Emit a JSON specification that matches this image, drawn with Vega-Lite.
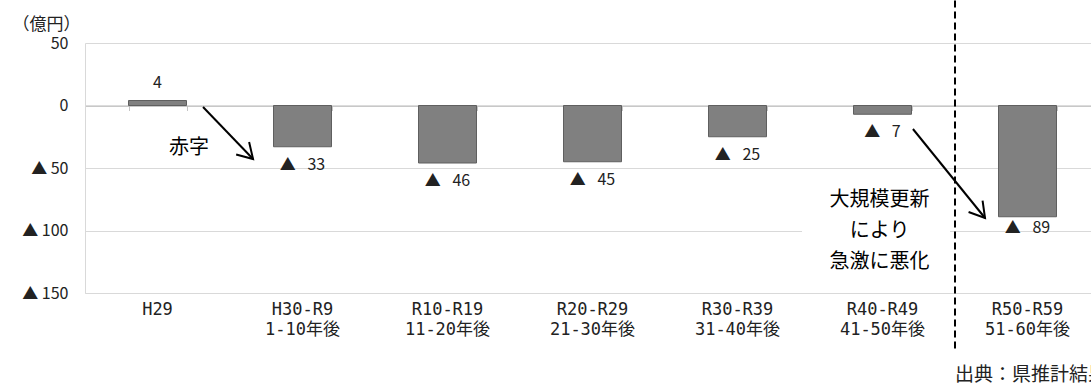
{
  "$schema": "https://vega.github.io/schema/vega-lite/v6.json",
  "width": 1015,
  "height": 250,
  "autosize": "none",
  "padding": {"left": 85, "top": 43, "right": 0, "bottom": 90},
  "background": "white",
  "config": {
    "view": {"stroke": null},
    "font": "Noto Sans CJK JP",
    "text": {"font": "Noto Sans CJK JP", "color": "#222"}
  },
  "datasets": {
    "balance": [
      {"period": "H29", "value": 4, "label": "4"},
      {"period": "H30-R9\n1-10年後", "value": -33, "label": "▲\u2002 33"},
      {"period": "R10-R19\n11-20年後", "value": -46, "label": "▲\u2002 46"},
      {"period": "R20-R29\n21-30年後", "value": -45, "label": "▲\u2002 45"},
      {"period": "R30-R39\n31-40年後", "value": -25, "label": "▲\u2002 25"},
      {"period": "R40-R49\n41-50年後", "value": -7, "label": "▲\u2002 7"},
      {"period": "R50-R59\n51-60年後", "value": -89, "label": "▲\u2002 89"}
    ],
    "arrows": [
      {"arrow": "deficit", "step": 0, "x": 0.814, "y": -1.2},
      {"arrow": "deficit", "step": 1, "x": 1.159, "y": -42.8},
      {"arrow": "renewal", "step": 0, "x": 5.71, "y": -18.8},
      {"arrow": "renewal", "step": 1, "x": 6.207, "y": -90}
    ],
    "notes": [
      {"kind": "deficit", "text": "赤字", "x": 0.717, "y": -34},
      {"kind": "renewal", "text": "大規模更新\nにより\n急激に悪化", "x": 5.48, "y": -75.6},
      {"kind": "source", "text": "出典：県推計結果", "x": 6.0, "y": -215.5}
    ]
  },
  "layer": [
    {
      "data": {"name": "balance"},
      "resolve": {"axis": {"x": "independent"}},
      "layer": [
        {
          "mark": {"type": "bar", "fill": "#808080", "stroke": "#5f5f5f", "strokeWidth": 1},
          "encoding": {
            "x": {
              "field": "period", "type": "nominal", "sort": null,
              "scale": {"paddingInner": 0.6, "paddingOuter": 0.3},
              "axis": {
                "orient": "bottom", "offset": -187.5, "labels": false, "ticks": true,
                "tickBand": "extent", "tickSize": 5, "tickColor": "#c4c4c4",
                "domainColor": "#b8b8b8", "title": null, "grid": false
              }
            },
            "y": {
              "field": "value", "type": "quantitative",
              "scale": {"domain": [-150, 50], "nice": false, "zero": false},
              "axis": {
                "values": [50, 0, -50, -100, -150],
                "labelExpr": "datum.value < 0 ? '▲ ' + (-datum.value) : '' + datum.value",
                "grid": true, "gridColor": "#d9d9d9", "ticks": false,
                "domainColor": "#d9d9d9", "labelPadding": 17, "labelFontSize": 16,
                "labelColor": "#222", "labelFont": "Noto Sans CJK JP",
                "title": "（億円）", "titleAngle": 0, "titleAlign": "left",
                "titleBaseline": "middle", "titleX": -73, "titleY": -19,
                "titleFontSize": 17, "titleFontWeight": "normal", "titleColor": "#222",
                "titleFont": "Noto Sans CJK JP"
              }
            },
            "y2": {"datum": 0}
          }
        },
        {
          "transform": [{"filter": "datum.value >= 0"}],
          "mark": {"type": "text", "fontSize": 16, "baseline": "middle", "dy": -18},
          "encoding": {
            "x": {"field": "period", "type": "nominal", "sort": null, "axis": null},
            "y": {"field": "value", "type": "quantitative"},
            "text": {"field": "label"}
          }
        },
        {
          "transform": [{"filter": "datum.value < 0 && datum.value > -80"}],
          "mark": {"type": "text", "fontSize": 16, "baseline": "middle", "dy": 18},
          "encoding": {
            "x": {
              "field": "period", "type": "nominal", "sort": null,
              "axis": {
                "orient": "bottom", "title": null, "ticks": false, "domainColor": "#d9d9d9",
                "labelExpr": "split(datum.label, '\\n')", "labelAngle": 0,
                "labelFontSize": 17, "labelLineHeight": 20, "labelPadding": 8,
                "labelColor": "#222", "labelFont": "DejaVu Sans Mono, Noto Sans CJK JP"
              }
            },
            "y": {"field": "value", "type": "quantitative"},
            "text": {"field": "label"}
          }
        },
        {
          "transform": [{"filter": "datum.value <= -80"}],
          "mark": {"type": "text", "fontSize": 16, "baseline": "middle", "dy": 11},
          "encoding": {
            "x": {"field": "period", "type": "nominal", "sort": null, "axis": null},
            "y": {"field": "value", "type": "quantitative"},
            "text": {"field": "label"}
          }
        }
      ]
    },
    {
      "layer": [
        {
          "data": {"values": [{}]},
          "mark": {"type": "rect", "fill": "white"},
          "encoding": {
            "x": {"datum": 4.945, "type": "quantitative", "scale": {"domain": [0, 7], "nice": false, "zero": false}, "axis": null},
            "x2": {"datum": 5.966},
            "y": {"datum": -60, "type": "quantitative"},
            "y2": {"datum": -140}
          }
        },
        {
          "data": {"values": [{}]},
          "mark": {"type": "rule", "color": "black", "strokeWidth": 2, "strokeDash": [7, 4]},
          "encoding": {
            "x": {"datum": 6, "type": "quantitative"},
            "y": {"datum": 84, "type": "quantitative"},
            "y2": {"datum": -195}
          }
        },
        {
          "data": {"name": "arrows"},
          "mark": {"type": "line", "color": "black", "strokeWidth": 2},
          "encoding": {
            "x": {"field": "x", "type": "quantitative"},
            "y": {"field": "y", "type": "quantitative"},
            "detail": {"field": "arrow"},
            "order": {"field": "step"}
          }
        },
        {
          "data": {"name": "arrows"},
          "transform": [{"filter": "datum.step == 1 && datum.arrow == 'deficit'"}],
          "mark": {"type": "point", "shape": "M-1,-0.6L0,0L-1,0.6", "filled": false, "stroke": "black", "strokeWidth": 2, "size": 900, "angle": 46, "opacity": 1},
          "encoding": {
            "x": {"field": "x", "type": "quantitative"},
            "y": {"field": "y", "type": "quantitative"}
          }
        },
        {
          "data": {"name": "arrows"},
          "transform": [{"filter": "datum.step == 1 && datum.arrow == 'renewal'"}],
          "mark": {"type": "point", "shape": "M-1,-0.6L0,0L-1,0.6", "filled": false, "stroke": "black", "strokeWidth": 2, "size": 900, "angle": 51, "opacity": 1},
          "encoding": {
            "x": {"field": "x", "type": "quantitative"},
            "y": {"field": "y", "type": "quantitative"}
          }
        },
        {
          "data": {"name": "notes"},
          "transform": [{"filter": "datum.kind != 'source'"}],
          "mark": {"type": "text", "fontSize": 20, "lineHeight": 31, "lineBreak": "\n", "align": "center", "baseline": "middle", "color": "black"},
          "encoding": {
            "x": {"field": "x", "type": "quantitative"},
            "y": {"field": "y", "type": "quantitative"},
            "text": {"field": "text"}
          }
        },
        {
          "data": {"name": "notes"},
          "transform": [{"filter": "datum.kind == 'source'"}],
          "mark": {"type": "text", "fontSize": 19, "align": "left", "baseline": "middle", "color": "#222"},
          "encoding": {
            "x": {"field": "x", "type": "quantitative"},
            "y": {"field": "y", "type": "quantitative"},
            "text": {"field": "text"}
          }
        }
      ]
    }
  ],
  "resolve": {"scale": {"x": "independent"}, "axis": {"x": "independent"}}
}
